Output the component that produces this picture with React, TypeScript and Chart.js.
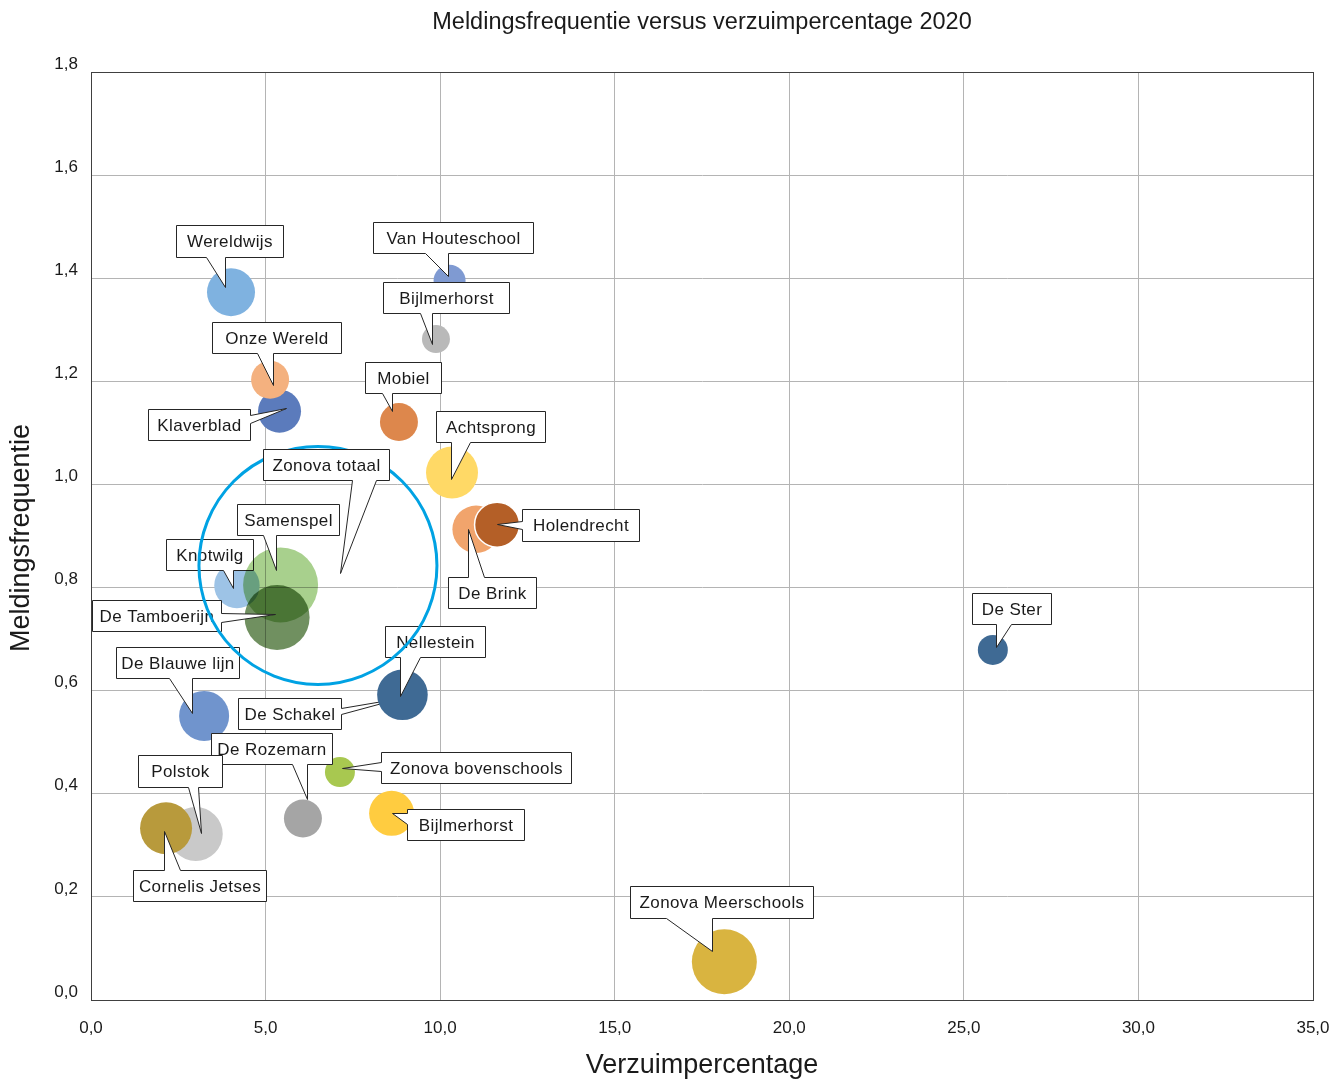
import React, { useEffect, useRef } from "react";
import { Chart, registerables } from "chart.js";

Chart.register(...registerables);

// ---------- data ----------
const TITLE = "Meldingsfrequentie versus verzuimpercentage 2020";
const X_TITLE = "Verzuimpercentage";
const Y_TITLE = "Meldingsfrequentie";

// series in drawing order (last one is the "Zonova totaal" ring)
const SCHOOLS = [
  "Wereldwijs", "Van Houteschool", "Bijlmerhorst", "Klaverblad", "Onze Wereld",
  "Mobiel", "Achtsprong", "De Brink", "Holendrecht", "Knotwilg", "Samenspel",
  "De Tamboerijn", "De Blauwe lijn", "De Schakel", "Nellestein",
  "Zonova bovenschools", "De Rozemarn", "Bijlmerhorst", "Polstok",
  "Cornelis Jetses", "De Ster", "Zonova Meerschools", "Zonova totaal",
];
const VERZUIM = [
  4.01, 10.27, 9.88, 5.40, 5.13,
  8.82, 10.34, 11.03, 11.63, 4.18, 5.43,
  5.33, 3.24, 8.90, 8.92,
  7.13, 6.07, 8.61, 3.00,
  2.15, 25.83, 18.14, 6.50,
];
const MELDINGSFREQUENTIE = [
  1.373, 1.395, 1.282, 1.142, 1.203,
  1.121, 1.023, 0.913, 0.922, 0.804, 0.805,
  0.742, 0.551, 0.590, 0.592,
  0.442, 0.352, 0.362, 0.322,
  0.333, 0.679, 0.074, 0.843,
];
const BUBBLE_SIZE = [
  24, 16, 14, 21.5, 19,
  19, 26, 23.7, 22.5, 22.7, 37.5,
  32.5, 25, 22, 25.3,
  15, 19, 22.5, 27,
  26, 15, 32.5, 119,
];

const X_MIN = 0, X_MAX = 35, X_STEP = 5;
const Y_MIN = 0, Y_MAX = 1.8, Y_STEP = 0.2;

// ---------- styles ----------
const FONT = '"Liberation Sans", Arial, sans-serif';
const TEXT = "#1a1a1a";
const COLORS = [
  "#7fb2e0", "#7f9ad2", "#b9b9b9", "#5b7bbc", "#f4b17f",
  "#dd874c", "#ffd966", "#f1a46c", "#b45f27", "#9dc3e6", "#a8d08d",
  "#709060", "#7094cd", "#2e5580", "#3f6a94",
  "#a8c850", "#a5a5a5", "#ffcc40", "#c9c9c9",
  "#b89a3c", "#3f6a94", "#d9b440", "rgba(0,0,0,0)",
];
const BORDER_COLORS = COLORS.map((c, i) =>
  i === SCHOOLS.length - 1 ? "#00a2e3" : "#ffffff"
);
const BORDER_WIDTHS = SCHOOLS.map((s, i) =>
  i === SCHOOLS.length - 1 ? 3 : s === "Holendrecht" ? 1.5 : 0
);
const MULTIPLY = ["Samenspel", "De Tamboerijn"];

// callout layout, pixel offsets relative to each bubble centre
type Side = "t" | "r" | "b" | "l";
type Callout = { box: [number, number, number, number]; side: Side; base: [number, number]; tip: [number, number] };
const CALLOUTS: Callout[] = [
  { box: [-55, -67, 52, -35], side: "b", base: [-25, -6], tip: [-6, -5] },
  { box: [-77, -59, 83, -28], side: "b", base: [-25, -2], tip: [-2, -5] },
  { box: [-53, -57, 73, -26], side: "b", base: [-16, -4], tip: [-4, 5] },
  { box: [-132, -2, -30, 29], side: "r", base: [4, 12], tip: [6, -3] },
  { box: [-58, -58, 71, -27], side: "b", base: [-13, 3], tip: [3, 5] },
  { box: [-34, -60, 42, -29], side: "b", base: [-17, -7], tip: [-7, -11] },
  { box: [-16, -62, 93, -31], side: "b", base: [-1, 18], tip: [-1, 6] },
  { box: [-28, 48, 60, 79], side: "t", base: [-8, 8], tip: [-8, 0] },
  { box: [25, -16, 142, 16], side: "l", base: [-4, 4], tip: [0, -1] },
  { box: [-71, -46, 16, -15], side: "b", base: [-14, -4], tip: [-4, 3] },
  { box: [-44, -81, 58, -50], side: "b", base: [-18, -5], tip: [-5, -15] },
  { box: [-185, -17, -56, 14], side: "r", base: [-4, 5], tip: [-2, -3] },
  { box: [-88, -69, 35, -38], side: "b", base: [-35, -12], tip: [-12, -3] },
  { box: [-164, 2, -61, 33], side: "r", base: [12, 18], tip: [-2, 2] },
  { box: [-17, -69, 83, -38], side: "b", base: [-2, 18], tip: [-2, 1] },
  { box: [41, -20, 231, 11], side: "l", base: [-10, -1], tip: [2, -4] },
  { box: [-92, -86, 29, -55], side: "b", base: [-11, 4], tip: [4, -20] },
  { box: [15, -4, 132, 27], side: "l", base: [0, 11], tip: [0, 0] },
  { box: [-58, -79, 26, -47], side: "b", base: [-8, 2], tip: [5, -1] },
  { box: [-33, 42, 100, 73], side: "t", base: [-2, 14], tip: [-2, 3] },
  { box: [-21, -57, 58, -26], side: "b", base: [3, 18], tip: [3, -3] },
  { box: [-94, -76, 89, -44], side: "b", base: [-58, -12], tip: [-12, -11] },
  { box: [-55, -116, 71, -85], side: "b", base: [34, 58], tip: [22, 8] },
];

const fmt = (v: number) => Number(v).toFixed(1).replace(".", ",");

function drawCallout(ctx: CanvasRenderingContext2D, cx: number, cy: number, c: Callout, text: string) {
  const r = (v: number) => Math.round(v) + 0.5;
  const x1 = r(cx + c.box[0]), y1 = r(cy + c.box[1]), x2 = r(cx + c.box[2]), y2 = r(cy + c.box[3]);
  const tx = r(cx + c.tip[0]), ty = r(cy + c.tip[1]);
  const horizontal = c.side === "t" || c.side === "b";
  const off = horizontal ? cx : cy;
  const lo = r(off + Math.min(c.base[0], c.base[1]));
  const hi = r(off + Math.max(c.base[0], c.base[1]));
  ctx.save();
  ctx.globalCompositeOperation = "source-over";
  ctx.beginPath();
  ctx.moveTo(x1, y1);
  if (c.side === "t") { ctx.lineTo(lo, y1); ctx.lineTo(tx, ty); ctx.lineTo(hi, y1); }
  ctx.lineTo(x2, y1);
  if (c.side === "r") { ctx.lineTo(x2, lo); ctx.lineTo(tx, ty); ctx.lineTo(x2, hi); }
  ctx.lineTo(x2, y2);
  if (c.side === "b") { ctx.lineTo(hi, y2); ctx.lineTo(tx, ty); ctx.lineTo(lo, y2); }
  ctx.lineTo(x1, y2);
  if (c.side === "l") { ctx.lineTo(x1, hi); ctx.lineTo(tx, ty); ctx.lineTo(x1, lo); }
  ctx.closePath();
  ctx.fillStyle = "#ffffff";
  ctx.fill();
  ctx.strokeStyle = "#262626";
  ctx.lineWidth = 1;
  ctx.lineJoin = "miter";
  ctx.stroke();
  ctx.fillStyle = TEXT;
  ctx.font = `17px ${FONT}`;
  (ctx as any).letterSpacing = "0.4px";
  ctx.textAlign = "center";
  ctx.textBaseline = "middle";
  ctx.fillText(text, (x1 + x2) / 2, (y1 + y2) / 2 + 1);
  ctx.restore();
}

const calloutPlugin = {
  id: "callouts",
  beforeDatasetDraw(chart: any, args: any) {
    const ds = chart.data.datasets[args.index];
    chart.ctx.globalCompositeOperation = ds.multiply ? "multiply" : "source-over";
  },
  afterDatasetDraw(chart: any, args: any) {
    const ctx = chart.ctx as CanvasRenderingContext2D;
    ctx.globalCompositeOperation = "source-over";
    const ds = chart.data.datasets[args.index];
    const el = chart.getDatasetMeta(args.index).data[0];
    if (el && ds.callout) drawCallout(ctx, el.x, el.y, ds.callout, ds.label);
  },
  beforeDatasetsDraw(chart: any) {
    const { ctx, chartArea } = chart;
    ctx.save();
    ctx.strokeStyle = "#404040";
    ctx.lineWidth = 1;
    ctx.strokeRect(Math.round(chartArea.left) + 0.5, Math.round(chartArea.top) + 0.5,
      Math.round(chartArea.right - chartArea.left), Math.round(chartArea.bottom - chartArea.top));
    ctx.restore();
  },
  afterDraw(chart: any) {
    const { ctx, chartArea } = chart;
    const midX = (chartArea.left + chartArea.right) / 2;
    const midY = (chartArea.top + chartArea.bottom) / 2;
    ctx.save();
    ctx.fillStyle = TEXT;
    ctx.textAlign = "center";
    ctx.textBaseline = "middle";
    ctx.font = `23.5px ${FONT}`;
    ctx.fillText(TITLE, midX, 23);
    ctx.font = `27px ${FONT}`;
    ctx.fillText(X_TITLE, midX, 1066);
    ctx.translate(22, midY + 2);
    ctx.rotate(-Math.PI / 2);
    ctx.fillText(Y_TITLE, 0, 0);
    ctx.restore();
  },
};

export default function App() {
  const ref = useRef<HTMLCanvasElement>(null);
  useEffect(() => {
    const n = SCHOOLS.length;
    const datasets = SCHOOLS.map((name, i) => ({
      label: name,
      data: [{ x: VERZUIM[i], y: MELDINGSFREQUENTIE[i], r: BUBBLE_SIZE[i] }],
      backgroundColor: COLORS[i],
      borderColor: BORDER_COLORS[i],
      borderWidth: BORDER_WIDTHS[i],
      order: n - i,
      multiply: MULTIPLY.includes(name),
      callout: CALLOUTS[i],
    }));
    const tickFont = { family: FONT, size: 17 };
    const chart = new Chart(ref.current as HTMLCanvasElement, {
      type: "bubble",
      data: { datasets: datasets as any },
      options: {
        responsive: false,
        animation: false,
        events: [],
        layout: { autoPadding: false, padding: { top: 72, right: 20, bottom: 0, left: 0 } },
        plugins: { legend: { display: false }, tooltip: { enabled: false }, title: { display: false } },
        scales: {
          x: {
            type: "linear", min: X_MIN, max: X_MAX,
            ticks: { stepSize: X_STEP, padding: 18, color: TEXT, font: tickFont, callback: (v: any) => fmt(v) },
            grid: { color: "#b4b4b4", drawTicks: false, lineWidth: 1 },
            border: { display: true, color: "#404040" },
            afterFit: (s: any) => { s.height = 80; s.paddingLeft = 0; s.paddingRight = 0; },
          },
          y: {
            type: "linear", min: Y_MIN, max: Y_MAX,
            ticks: { stepSize: Y_STEP, padding: 13, labelOffset: -8, color: TEXT, font: tickFont, callback: (v: any) => fmt(v) },
            grid: { color: "#b4b4b4", drawTicks: false, lineWidth: 1 },
            border: { display: true, color: "#404040" },
            afterFit: (s: any) => { s.width = 91; s.paddingTop = 0; s.paddingBottom = 0; },
          },
        },
      } as any,
      plugins: [calloutPlugin as any],
    });
    return () => chart.destroy();
  }, []);
  return (
    <div style={{ position: "absolute", left: 0, top: 0, width: 1333, height: 1080, background: "#ffffff" }}>
      <canvas ref={ref} width={1333} height={1080} style={{ display: "block", width: 1333, height: 1080 }} />
    </div>
  );
}
